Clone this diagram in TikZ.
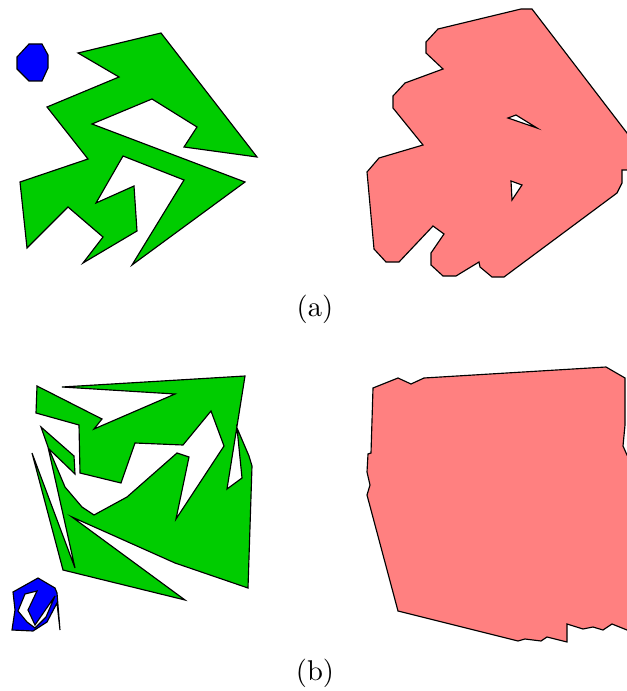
\documentclass[tikz,border=0pt]{standalone}
\usepackage{tikz}
\definecolor{ink}{RGB}{0,0,0}
\definecolor{obst}{RGB}{0,204,0}
\definecolor{robot}{RGB}{0,0,255}
\definecolor{msum}{RGB}{255,128,128}
\tikzset{
  every picture/.style={line width=0.4pt, line join=miter},
  obstacle/.style={draw=ink, fill=obst},
  agent/.style={draw=ink, fill=robot},
  hole/.style={draw=ink, fill=white},
  sumshape/.style={draw=ink, fill=msum, even odd rule},
  caption/.style={font=\normalsize, inner sep=0pt},
}

\begin{document}
\begin{tikzpicture}[x=0.35pt, y=-0.35pt]
  \useasboundingbox (0,0) rectangle (627,691);
  \clip (0,0) rectangle (627,691);
  % (a)
  \draw[agent] (29,44) -- (42,44) -- (48,55) -- (48,68) -- (42,81) -- (29,81) -- (17,69) -- (17,57) -- cycle;
  \draw[obstacle] (161,33) -- (78,53) -- (119,77) -- (47,107) -- (88,159) -- (20,182) -- (27,248)
    -- (68,207) -- (103,237) -- (83,263) -- (137,231) -- (134,186) -- (96,203) -- (123,156)
    -- (184,180) -- (132,265) -- (245,182) -- (92,124) -- (152,99) -- (197,127) -- (184,147)
    -- (257,157) -- cycle;
  \draw[sumshape] (521,9) -- (532,9) -- (640,150) -- (640,163) -- (634,170) -- (622,170) -- (622,183)
    -- (617,193) -- (504,277) -- (492,277) -- (480,267) -- (479,262) -- (456,276) -- (443,276)
    -- (431,265) -- (431,253) -- (444,234) -- (433,226) -- (399,262) -- (386,262) -- (374,249)
    -- (367,172) -- (379,158) -- (423,145) -- (393,108) -- (393,96) -- (405,83) -- (443,69)
    -- (426,53) -- (426,42) -- (438,29) -- cycle
    (508,118) -- (516,115) -- (537,128) -- cycle
    (511,181) -- (522,185) -- (512,200) -- cycle;
  \node[caption] (capa) at (315,309) {(a)};
  % (b)
  \draw[obstacle] (62,387) -- (245,376) -- (227,489) -- (242,478) -- (237,428) -- (249,456)
    -- (252,466) -- (248,588) -- (175,563) -- (72,517) -- (185,600) -- (63,570) -- (32,453)
    -- (75,568) -- (48,447) -- (41,427) -- (74,456) -- (75,474) -- (49,449) -- (65,487) -- (82,507)
    -- (94,515) -- (127,497) -- (177,453) -- (189,457) -- (176,519) -- (224,446) -- (211,411)
    -- (183,445) -- (135,443) -- (121,483) -- (80,473) -- (79,425) -- (36,413) -- (37,386)
    -- (102,419) -- (94,429) -- (175,394) -- cycle;
  \draw[agent] (12,630) -- (15,610) -- (13,592) -- (38,578) -- (55,588) -- (57,593) -- (60,630)
    -- (57,603) -- (47,622) -- (33,631) -- cycle;
  \draw[hole] (18,611) -- (25,594) -- (37,591) -- (28,610) -- (35,625)
    -- (55,596) -- (46,617) -- (35,628) -- (27,622) -- cycle;
  \draw[sumshape] (373,388) -- (398,378) -- (411,384) -- (424,378) -- (606,367) -- (625,378)
    -- (625,425) -- (623,446) -- (627,455) -- (640,470) -- (640,632) -- (627,630) -- (612,624)
    -- (603,630) -- (593,627) -- (583,629) -- (567,624) -- (567,642) -- (547,637) -- (541,641)
    -- (525,639) -- (518,641) -- (398,611) -- (367,495) -- (370,485) -- (367,472) -- (368,454)
    -- (371,453) -- cycle;
  \node[caption] (capb) at (315,673) {(b)};
\end{tikzpicture}
\end{document}
